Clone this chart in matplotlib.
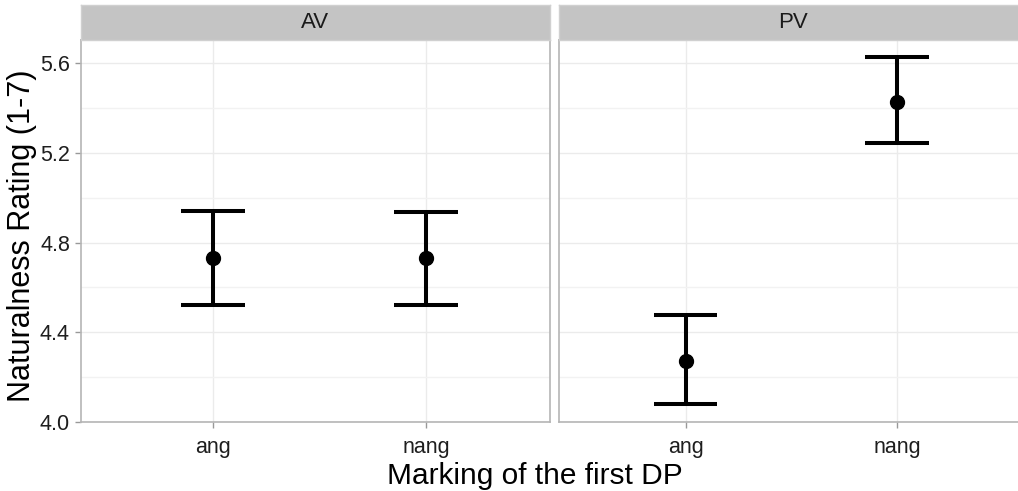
import matplotlib
matplotlib.use("Agg")
import matplotlib.pyplot as plt

plt.rcParams['font.family'] = ['Liberation Sans', 'DejaVu Sans']

# data
panels = ['AV', 'PV']
categories = ['ang', 'nang']
means = {'AV': [4.73, 4.73], 'PV': [4.27, 5.43]}
lower = {'AV': [4.52, 4.52], 'PV': [4.08, 5.245]}
upper = {'AV': [4.94, 4.935], 'PV': [4.475, 5.627]}
yticks = [4.0, 4.4, 4.8, 5.2, 5.6]
yminor = [4.2, 4.6, 5.0, 5.4]

W, H = 1018, 491
fig = plt.figure(figsize=(W / 100, H / 100), dpi=100)

border = '#b5b5b5'
lefts = [81, 559]
xlims = [(0.38, 2.58), (0.4, 2.62)]
pw = 469
for i, p in enumerate(panels):
    ax = fig.add_axes([lefts[i] / W, (H - 422) / H, pw / W, 382 / H])
    x = [1, 2]
    ax.set_xlim(*xlims[i])
    ax.set_ylim(3.998, 5.705)
    ax.set_yticks(yticks)
    ax.set_yticks(yminor, minor=True)
    ax.set_xticks(x)
    ax.set_xticklabels(categories)
    ax.grid(True, which='major', color='#ebebeb', lw=1.0)
    ax.grid(True, which='minor', axis='y', color='#f2f2f2', lw=1.0)
    ax.set_axisbelow(True)
    for s in ax.spines.values():
        s.set_color(border)
        s.set_linewidth(1.2)
    ax.tick_params(axis='both', which='major', colors='#999999', labelcolor='#1e1e1e',
                   labelsize=15.5, length=4.5, width=1.0)
    ax.tick_params(axis='x', pad=6)
    ax.tick_params(axis='y', pad=3.5)
    ax.tick_params(which='minor', length=0)
    if i == 1:
        ax.tick_params(axis='y', left=False, labelleft=False)
    else:
        ax.set_yticklabels(['%.1f' % t for t in yticks])

    ax.vlines(x, lower[p], upper[p], color='black', lw=2.9, zorder=3)
    ax.hlines(lower[p], [v - 0.15 for v in x], [v + 0.15 for v in x], color='black', lw=2.9, zorder=3)
    ax.hlines(upper[p], [v - 0.15 for v in x], [v + 0.15 for v in x], color='black', lw=2.9, zorder=3)
    ax.plot(x, means[p], 'o', color='black', ms=10, zorder=4)

    sax = fig.add_axes([lefts[i] / W, (H - 40) / H, pw / W, 35 / H])
    sax.set_facecolor('#c4c4c4')
    sax.set_xticks([])
    sax.set_yticks([])
    for s in sax.spines.values():
        s.set_color('#d0d0d0')
        s.set_linewidth(1.0)
    sax.text(0.5, 0.5, p, ha='center', va='center', fontsize=16, color='#1a1a1a',
             transform=sax.transAxes)

fig.text(535 / W, (H - 476) / H, 'Marking of the first DP', ha='center', va='center',
         fontsize=21.5, color='black')
fig.text(22 / W, (H - 236) / H, 'Naturalness Rating (1-7)', ha='center', va='center',
         rotation=90, fontsize=22, color='black')

fig.savefig('out.png', dpi=100, facecolor='white')
